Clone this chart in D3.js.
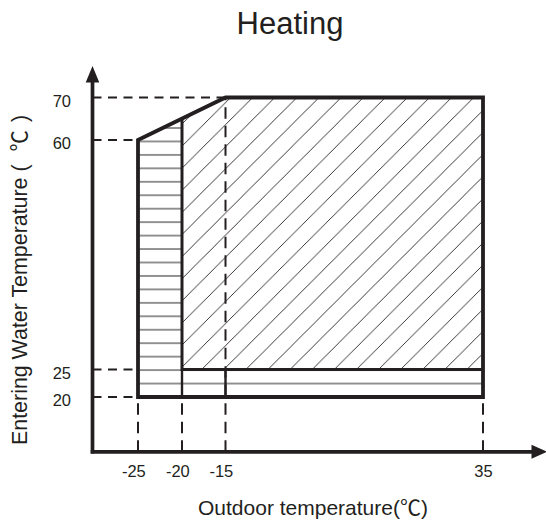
<!DOCTYPE html>
<html>
<head>
<meta charset="utf-8">
<script src="https://cdn.jsdelivr.net/npm/d3@7"></script>
<style>
  html, body { margin: 0; padding: 0; background: #fff; }
  svg { display: block; }
  text { font-family: "Liberation Sans", Arial, "Noto Sans CJK SC", sans-serif; fill: #231f20; }
</style>
</head>
<body>
<svg id="chart" width="546" height="524"></svg>
<script>
// Operating range of the heat pump in heating mode
const outdoorTicks = [-25, -20, -15, 35];   // °C, outdoor air
const waterTicks = [20, 25, 60, 70];        // °C, entering water

// Outer envelope of the operating range
const envelope = [[-25, 20], [-25, 60], [-15, 70], [35, 70], [35, 20]];
// Standard zone (diagonal hatch)
const standardZone = [[-20, 25], [-20, 65], [-15, 70], [35, 70], [35, 25]];
// Extended zone (horizontal hatch)
const extendedZone = [[-25, 20], [-25, 60], [-20, 65], [-20, 25], [35, 25], [35, 20]];
// Border between the two zones
const zoneBorder = [[-20, 65], [-20, 25], [35, 25]];

const ink = "#231f20";
const svg = d3.select("#chart");

// Axes are drawn unevenly spaced, so the scales are piecewise linear
const x = d3.scaleLinear().domain(outdoorTicks).range([138, 182, 225.5, 483]);
const y = d3.scaleLinear().domain(waterTicks).range([397, 369.5, 140, 97.5]);

const axisX = 92.5;   // vertical axis position
const axisY = 451.8;  // horizontal axis position

// Hatch patterns
const defs = svg.append("defs");
const dg = 22.1;
defs.append("pattern")
  .attr("id", "diag")
  .attr("patternUnits", "userSpaceOnUse")
  .attr("width", dg).attr("height", dg)
  .attr("patternTransform", "translate(18.7,0)")
  .append("path")
  .attr("d", `M0,${dg}L${dg},0M-2,2L2,-2M${dg - 2},${dg + 2}L${dg + 2},${dg - 2}`)
  .attr("stroke", ink).attr("stroke-width", 0.9).attr("fill", "none");

const hg = 13.45;
const hOff = ((y(20) - hg / 2) % hg + hg) % hg;
defs.append("pattern")
  .attr("id", "horiz")
  .attr("patternUnits", "userSpaceOnUse")
  .attr("width", 10).attr("height", hg)
  .attr("patternTransform", `translate(0,${hOff})`)
  .append("path")
  .attr("d", `M-1,${hg / 2}L11,${hg / 2}`)
  .attr("stroke", "#3a3a3a").attr("stroke-width", 1.1).attr("fill", "none");

const line = d3.line().x(d => x(d[0])).y(d => y(d[1]));

svg.append("path").attr("d", line(standardZone) + "Z").attr("fill", "url(#diag)");
svg.append("path").attr("d", line(extendedZone) + "Z").attr("fill", "url(#horiz)");

// Dashed guide lines
const guides = svg.append("g").attr("stroke", ink).attr("stroke-width", 2).attr("fill", "none");
[[70, -15], [60, -25], [25, -25], [20, -25]].forEach(([w, o]) => {
  guides.append("line")
    .attr("x1", axisX).attr("x2", x(o))
    .attr("y1", y(w)).attr("y2", y(w))
    .attr("stroke-dasharray", "9,6.5");
});
outdoorTicks.forEach(o => {
  const top = o === -15 ? 70 : 20;
  guides.append("line")
    .attr("x1", x(o)).attr("x2", x(o))
    .attr("y1", axisY).attr("y2", y(top))
    .attr("stroke-dasharray", "11.5,7");
});
// Short solid marks across the strip between 20 and 25
[-20, -15].forEach(o => {
  guides.append("line")
    .attr("x1", x(o)).attr("x2", x(o))
    .attr("y1", y(20)).attr("y2", y(25))
    .attr("stroke-width", 2.4);
});

// Zone outlines
svg.append("path").attr("d", line(zoneBorder))
  .attr("fill", "none").attr("stroke", ink).attr("stroke-width", 3);
svg.append("path").attr("d", line(envelope) + "Z")
  .attr("fill", "none").attr("stroke", ink).attr("stroke-width", 3.8)
  .attr("stroke-linejoin", "miter");

// Axes with arrowheads
const axes = svg.append("g").attr("stroke", ink).attr("stroke-width", 3.7);
axes.append("line").attr("x1", axisX).attr("x2", axisX).attr("y1", axisY + 1.8).attr("y2", 80);
axes.append("line").attr("x1", axisX - 1.8).attr("x2", 534).attr("y1", axisY).attr("y2", axisY);
svg.append("path").attr("fill", ink)
  .attr("d", `M${axisX},66L${axisX - 6.8},82.5L${axisX + 6.8},82.5Z`);
svg.append("path").attr("fill", ink)
  .attr("d", `M547,${axisY}L531.5,${axisY - 7}L531.5,${axisY + 7}Z`);

// Tick labels (plain hyphen for negatives)
const gx = svg.append("g")
  .attr("transform", `translate(0,${axisY})`)
  .call(d3.axisBottom(x).tickValues(outdoorTicks).tickFormat(d => String(d))
    .tickSize(0).tickPadding(13.3));
gx.select(".domain").remove();
gx.selectAll("text")
  .attr("font-size", 16.5)
  .attr("dx", d => d < 0 ? "-0.28em" : 0);

const gy = svg.append("g")
  .attr("transform", `translate(${axisX},0)`)
  .call(d3.axisLeft(y).tickValues(waterTicks).tickFormat(d => String(d))
    .tickSize(0).tickPadding(21.5));
gy.select(".domain").remove();
gy.selectAll("text")
  .attr("font-size", 16.5)
  .attr("dy", "0.52em");
gx.attr("font-family", null).attr("font-size", null);
gy.attr("font-family", null).attr("font-size", null);

// Titles
svg.append("text")
  .attr("x", 290).attr("y", 33.5)
  .attr("text-anchor", "middle")
  .attr("font-size", 31)
  .text("Heating");

svg.append("text")
  .attr("x", 198).attr("y", 515)
  .attr("font-size", 21)
  .text("Outdoor temperature(℃)");

const yTitle = svg.append("text")
  .attr("transform", "translate(27,445) rotate(-90)")
  .attr("font-size", 21.4);
yTitle.append("tspan").text("Entering Water Temperature (");
yTitle.append("tspan").attr("dx", 13).text("℃");
yTitle.append("tspan").attr("dx", 8).text(")");
</script>
</body>
</html>
